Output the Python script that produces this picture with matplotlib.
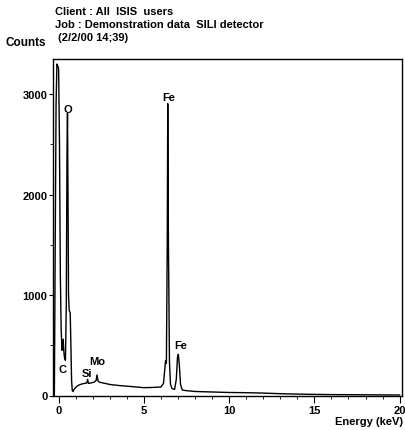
import matplotlib
matplotlib.use("Agg")
import matplotlib.pyplot as plt
from matplotlib.ticker import MultipleLocator

# Spectrum (energy keV, counts)
energy = [-0.3, -0.25, -0.2, -0.15, -0.1, -0.05, 0.0, 0.05, 0.1, 0.15, 0.2, 0.24, 0.27,
          0.3, 0.34, 0.4, 0.45, 0.49, 0.52, 0.55, 0.58, 0.62, 0.68, 0.72, 0.76, 0.8,
          0.85, 0.9, 1.0, 1.1, 1.2, 1.37, 1.5, 1.65, 1.7, 1.75, 1.9, 2.1, 2.2, 2.25,
          2.32, 2.45, 2.6, 3.0, 3.5, 4.2, 5.0, 5.5, 6.0, 6.15, 6.22, 6.27, 6.32, 6.37,
          6.4, 6.44, 6.5, 6.56, 6.65, 6.8, 6.9, 6.97, 7.02, 7.08, 7.15, 7.25, 7.4,
          7.7, 8.0, 9.0, 10.0, 11.0, 12.0, 13.0, 14.0, 15.0, 16.0, 17.0, 18.0, 19.0, 20.0]
counts = [0, 0, 1500, 2900, 3300, 3280, 3250, 2500, 1200, 650, 450, 520, 560,
          450, 380, 350, 900, 2400, 2810, 2000, 1000, 850, 820, 500, 150, 50,
          40, 60, 80, 95, 105, 115, 120, 125, 160, 120, 125, 135, 150, 205,
          140, 130, 125, 110, 100, 90, 78, 80, 85, 120, 250, 345, 320, 1500,
          2905, 1500, 335, 110, 70, 60, 160, 380, 410, 300, 110, 55, 50,
          45, 40, 35, 30, 28, 24, 18, 14, 11, 9, 8, 7, 6, 5]

peak_labels = ["O", "Fe", "Fe", "C", "Mo", "Si"]
peak_x = [0.57, 6.43, 7.13, 0.22, 2.27, 1.68]
peak_y = [2850, 2970, 500, 265, 345, 225]

x_ticks = [0, 5, 10, 15, 20]
y_ticks = [0, 1000, 2000, 3000]

plt.rcParams['font.family'] = ['Liberation Sans', 'DejaVu Sans']
fig = plt.figure(figsize=(4.05, 4.31), dpi=100)
ax = fig.add_axes([53/405, 1-396.5/431, (401.7-53)/405, (396.5-60)/431])

ax.plot(energy, counts, color='black', linewidth=1.0)

ax.set_xlim(-0.33, 20.12)
ax.set_ylim(0, 3350)
ax.set_xticks(x_ticks)
ax.set_yticks(y_ticks)
ax.xaxis.set_minor_locator(MultipleLocator(1))
ax.yaxis.set_minor_locator(MultipleLocator(500))
ax.tick_params(axis='both', which='major', direction='out', labelsize=8, width=0.8, colors='black')
ax.tick_params(axis='x', which='major', length=5, pad=1.5)
ax.tick_params(axis='y', which='major', length=3, pad=1)
ax.tick_params(axis='both', which='minor', direction='out', length=2, width=0.6)
for lab in ax.get_xticklabels() + ax.get_yticklabels():
    lab.set_fontweight('bold')
for s in ax.spines.values():
    s.set_linewidth(1.0)

for t, x, y in zip(peak_labels, peak_x, peak_y):
    ax.text(x, y, t, ha='center', va='center', fontsize=8, fontweight='bold')

fig.text(55/405, 1-12/431, "Client : All  ISIS  users", fontsize=8, fontweight='bold', va='center', ha='left')
fig.text(55/405, 1-25/431, "Job : Demonstration data  SILI detector", fontsize=8, fontweight='bold', va='center', ha='left')
fig.text(55/405, 1-38/431, " (2/2/00 14;39)", fontsize=8, fontweight='bold', va='center', ha='left')
fig.text(5/405, 1-43/431, "Counts", fontsize=8.5, fontweight='bold', va='center', ha='left')
fig.text(403/405, 1-422/431, "Energy (keV)", fontsize=8, fontweight='bold', va='center', ha='right')

fig.savefig("out.png", dpi=100)
